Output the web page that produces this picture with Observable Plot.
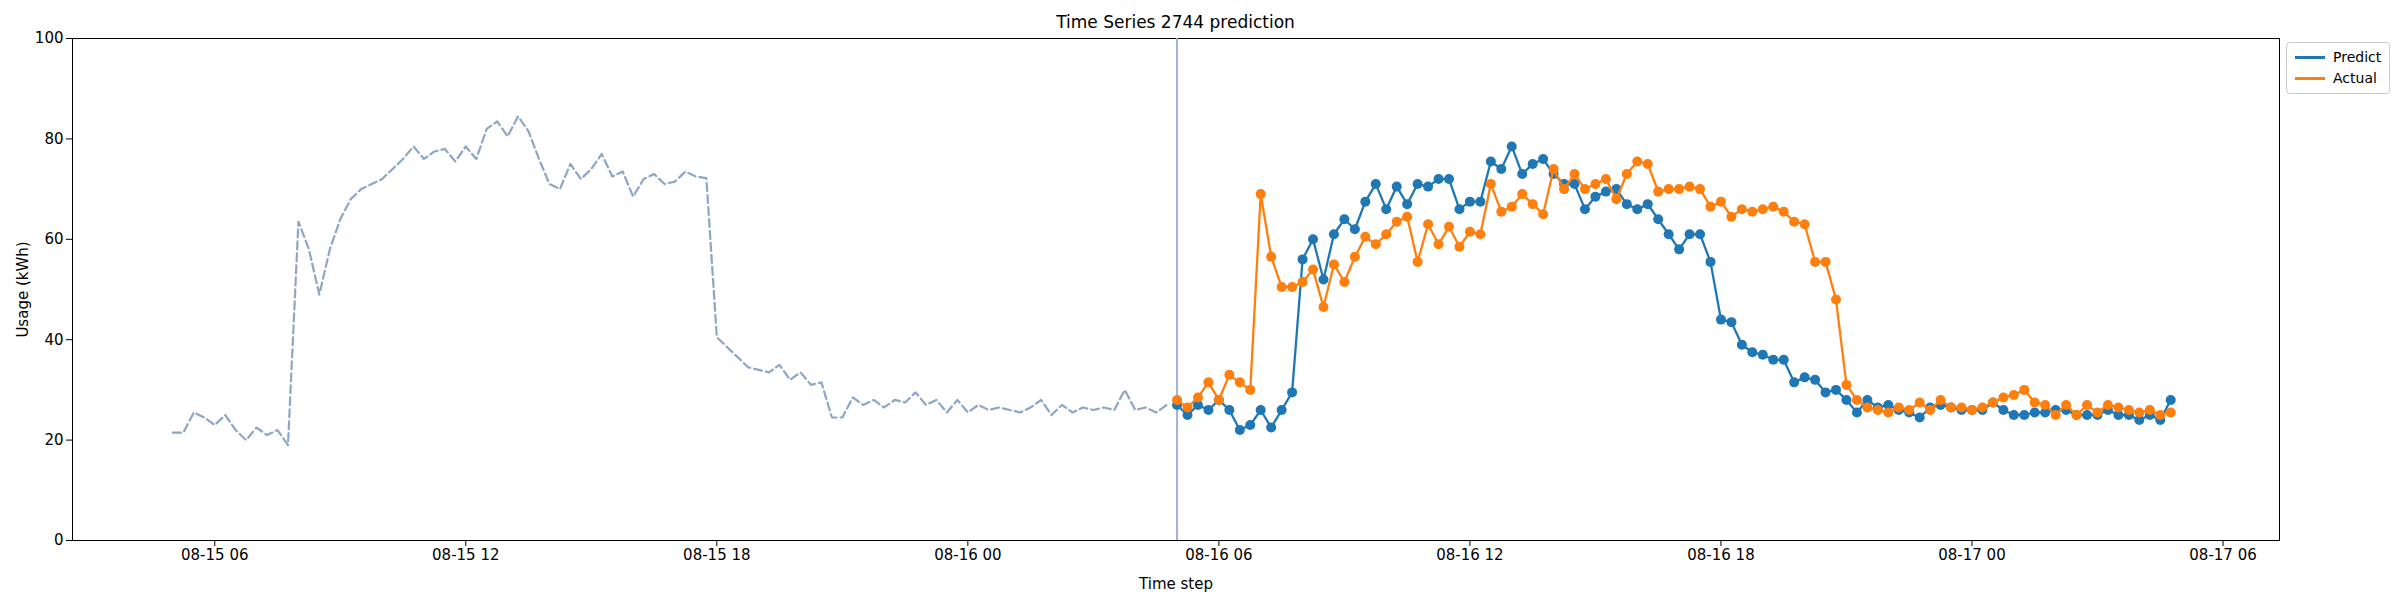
<!DOCTYPE html>
<html>
<head>
<meta charset="utf-8">
<script src="https://cdn.jsdelivr.net/npm/d3@7"></script>
<script src="https://cdn.jsdelivr.net/npm/@observablehq/plot@0.6"></script>
<style>
  body { margin: 0; background: #fff; font-family: "DejaVu Sans", sans-serif; }
  #wrap { position: relative; width: 2400px; height: 600px; }
  #title { position: absolute; top: 12px; left: 72px; width: 2207px; text-align: center; font-size: 17px; }
  #legend { position: absolute; top: 42px; left: 2286px; border: 1px solid #ccc; border-radius: 4px; padding: 4px 8px; font-size: 14px; background: #fff; }
  #legend div { display: flex; align-items: center; gap: 8px; line-height: 21px; }
  #legend span.sw { display: inline-block; width: 30px; height: 2.5px; }
</style>
</head>
<body>
<div id="wrap">
  <div id="title">Time Series 2744 prediction</div>
  <div id="legend">
    <div><span class="sw" style="background:#1f77b4"></span>Predict</div>
    <div><span class="sw" style="background:#ff7f0e"></span>Actual</div>
  </div>
  <div id="container-viz"></div>
</div>
<script>
// 15-minute steps
const historyStart = Date.UTC(2024, 7, 15, 5, 0);
const forecastStart = Date.UTC(2024, 7, 16, 5, 0);

const history = [
  21.5, 21.5, 25.5, 24.5, 23, 25, 22, 20, 22.5, 21,
  22, 19, 63.5, 58, 49, 58, 64, 68, 70, 71,
  72, 74, 76, 78.5, 76, 77.5, 78, 75.5, 78.5, 76,
  82, 83.5, 80.5, 84.5, 81.5, 76, 71, 70, 75, 72,
  74, 77, 72.5, 73.5, 68.5, 72, 73, 71, 71.5, 73.5,
  72.5, 72.2, 40.5, 38.5, 36.5, 34.5, 34, 33.5, 35, 32,
  33.5, 31, 31.5, 24.5, 24.5, 28.5, 27, 28, 26.5, 28,
  27.5, 29.5, 27, 28, 25.5, 28, 25.5, 27, 26, 26.5,
  26, 25.5, 26.5, 28, 25, 27, 25.5, 26.5, 26, 26.5,
  26, 30, 26, 26.5, 25.5, 27
];

const predict = [
  27, 25, 27, 26, 28, 26, 22, 23, 26, 22.5,
  26, 29.5, 56, 60, 52, 61, 64, 62, 67.5, 71,
  66, 70.5, 67, 71, 70.5, 72, 72, 66, 67.5, 67.5,
  75.5, 74, 78.5, 73, 75, 76, 73, 71, 71, 66,
  68.5, 69.5, 70, 67, 66, 67, 64, 61, 58, 61,
  61, 55.5, 44, 43.5, 39, 37.5, 37, 36, 36, 31.5,
  32.5, 32, 29.5, 30, 28, 25.5, 28, 26.5, 27, 26,
  25.5, 24.5, 26.5, 27, 26.5, 26, 26, 26, 27.5, 26,
  25, 25, 25.5, 25.5, 26, 26, 25, 25, 25, 26,
  25, 25, 24, 25, 24, 28
];

const actual = [
  28, 26.5, 28.5, 31.5, 28, 33, 31.5, 30, 69, 56.5,
  50.5, 50.5, 51.5, 54, 46.5, 55, 51.5, 56.5, 60.5, 59,
  61, 63.5, 64.5, 55.5, 63, 59, 62.5, 58.5, 61.5, 61,
  71, 65.5, 66.5, 69, 67, 65, 74, 70, 73, 70,
  71, 72, 68, 73, 75.5, 75, 69.5, 70, 70, 70.5,
  70, 66.5, 67.5, 64.5, 66, 65.5, 66, 66.5, 65.5, 63.5,
  63, 55.5, 55.5, 48, 31, 28, 26.5, 26, 25.5, 26.5,
  26, 27.5, 26, 28, 26.5, 26.5, 26, 26.5, 27.5, 28.5,
  29, 30, 27.5, 27, 25, 27, 25, 27, 25.5, 27,
  26.5, 26, 25.5, 26, 25, 25.5
];

const step = 15 * 60 * 1000;
const histData = history.map((v, i) => ({ t: new Date(historyStart + i * step), v }));
const predData = predict.map((v, i) => ({ t: new Date(forecastStart + i * step), v }));
const actData = actual.map((v, i) => ({ t: new Date(forecastStart + i * step), v }));

const chart = Plot.plot({
  width: 2400,
  height: 600,
  marginLeft: 72,
  marginRight: 121,
  marginTop: 38,
  marginBottom: 60,
  style: { fontSize: "15px", fontFamily: "DejaVu Sans, sans-serif", background: "transparent" },
  x: {
    type: "utc",
    domain: [new Date(Date.UTC(2024, 7, 15, 2, 36)), new Date(Date.UTC(2024, 7, 17, 7, 21))],
    ticks: d3.utcHour.every(6),
    tickFormat: d3.utcFormat("%m-%d %H"),
    label: null
  },
  y: { domain: [0, 100], ticks: [0, 20, 40, 60, 80, 100], label: null },
  marks: [
    Plot.frame({ stroke: "black" }),
    Plot.ruleX([new Date(forecastStart)], { stroke: "#a3b1d4", strokeWidth: 2 }),
    Plot.line(histData, { x: "t", y: "v", stroke: "#8ea6c6", strokeWidth: 2.2, strokeDasharray: "8,4" }),
    Plot.line(predData, { x: "t", y: "v", stroke: "#1f77b4", strokeWidth: 2.3 }),
    Plot.dot(predData, { x: "t", y: "v", fill: "#1f77b4", r: 5 }),
    Plot.line(actData, { x: "t", y: "v", stroke: "#ff7f0e", strokeWidth: 2.3 }),
    Plot.dot(actData, { x: "t", y: "v", fill: "#ff7f0e", r: 5 }),
    Plot.axisX({ ticks: d3.utcHour.every(6), tickFormat: d3.utcFormat("%m-%d %H"), label: "Time step", labelAnchor: "center", labelArrow: "none", labelOffset: 48 }),
    Plot.axisY({ ticks: [0, 20, 40, 60, 80, 100], label: "Usage (kWh)", labelAnchor: "center", labelArrow: "none", labelOffset: 55 })
  ]
});

document.getElementById("container-viz").appendChild(chart);
</script>
</body>
</html>
